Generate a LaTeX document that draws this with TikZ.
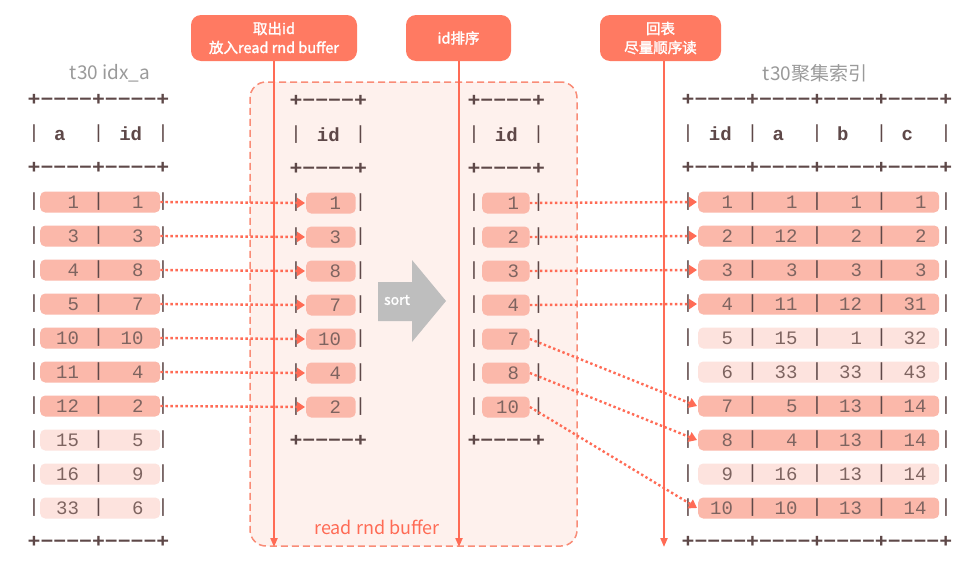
\documentclass[tikz,border=0pt]{standalone}
\usepackage{fontspec}
\newfontfamily\tbl{Liberation Mono}
\newfontfamily\cjk{Noto Sans CJK SC}
\newfontfamily\cjkb{Noto Sans CJK SC}[FakeBold=1.8]
\usetikzlibrary{arrows.meta}
\definecolor{tline}{HTML}{5E4848}
\definecolor{tnum}{HTML}{7E6460}
\definecolor{hidark}{HTML}{FBB8AA}
\definecolor{hilight}{HTML}{FDE3DE}
\definecolor{boxfill}{HTML}{FEF1ED}
\definecolor{boxedge}{HTML}{F98C77}
\definecolor{callout}{HTML}{FF7A62}
\definecolor{conn}{HTML}{FF6B55}
\definecolor{lbl}{HTML}{9A9A9A}
\definecolor{sortg}{HTML}{BEBEBE}
\tikzset{
  tc/.style={font=\tbl\fontsize{19}{19}\selectfont, text=tline, inner sep=0pt},
  tb/.style={font=\tbl\bfseries\fontsize{19}{19}\selectfont, text=tline, inner sep=0pt},
  th/.style={font=\tbl\bfseries\fontsize{19}{19}\selectfont, text=tline, inner sep=0pt},
  tn/.style={font=\tbl\fontsize{19}{19}\selectfont, text=tnum, inner sep=0pt, anchor=base east},
  hlbox/.style={rounded corners=5pt, inner sep=0pt, minimum height=21pt, anchor=west},
  conn/.style={draw=conn, line width=2.4pt, dash pattern=on 2.4pt off 2.6pt, -{Triangle[length=8pt,width=10pt]}},
  vline/.style={draw=conn, line width=2pt, -{Triangle[length=9pt,width=7pt]}},
  callout/.style={fill=callout, rounded corners=10pt, text=white, align=center, font=\cjkb\fontsize{14.5}{19}\selectfont, inner sep=0pt, minimum height=46pt},
  tlabel/.style={text=lbl, font=\cjk\fontsize{19}{19}\selectfont, inner sep=0pt},
  dashbox/.style={draw=boxedge, fill=boxfill, line width=1.5pt, dash pattern=on 7pt off 4pt, rounded corners=16pt, inner sep=0pt}
}
% border line: name, x0, y, text, ncols
\newcommand\tborder[5]{%
  \node[tb] (#1) at ({#2+#5*32.25},#3) {\scalebox{1.13}[1]{#4}};
}
\newcommand\bone{+−−−−+}
\newcommand\btwo{+−−−−+−−−−+}
\newcommand\bfour{+−−−−+−−−−+−−−−+−−−−+}
% header: name, x0, y, ncols, labels/offsets
\newcommand\thdr[5]{%
  \foreach \j in {0,...,#4}{\node[tc] (#1p\j) at ({#2+\j*64.5},#3) {|};}
  \foreach \t/\o [count=\c] in {#5}{\node[th, anchor=base] (#1h\c) at ({#2+(\c-1)*64.5+\o},{#3+6.3}) {\t};}
}
% row: name, x0, y, ncols, fill, left offset, right inset, values
\newcommand\trow[8]{%
  \pgfmathsetmacro\hla{#2+#6}%
  \pgfmathsetmacro\hlw{#4*64.5-#7-#6}%
  \node[hlbox, fill=#5, minimum width=\hlw pt] (#1) at (\hla,#3) {};
  \foreach \j in {0,...,#4}{\node[tc] (#1p\j) at ({#2+\j*64.5},#3) {|};}
  \foreach \v [count=\c] in {#8}{\node[tn] (#1n\c) at ({#2+(\c-1)*64.5+3.5*12.9},{#3+6.3}) {\v};}
}
\begin{document}
\begin{tikzpicture}[x=1pt,y=-1pt]
\useasboundingbox (0,0) rectangle (977,562);
\fill[white] (0,0) rectangle (977,562);

% read rnd buffer box
\node[dashbox, minimum width=327pt, minimum height=464pt] (buf) at (413.5,314) {};
\node[text=conn, font=\cjk\fontsize{18}{18}\selectfont, inner sep=0pt] (buflbl) at (377,527) {read rnd buffer};

% labels
\node[tlabel] (lab1) at (110,73) {t30 idx\_a};
\node[tlabel] (lab2) at (815,73) {t30聚集索引};

% left table
\tborder{Lt}{34}{100}{\btwo}{2}
\thdr{Lh}{34}{134}{2}{a/25.8, id/32.25}
\tborder{Lm}{34}{168}{\btwo}{2}
\trow{Lr1}{34}{202}{2}{hidark}{6}{3}{1,1}
\trow{Lr2}{34}{236}{2}{hidark}{6}{3}{3,3}
\trow{Lr3}{34}{270}{2}{hidark}{6}{3}{4,8}
\trow{Lr4}{34}{304}{2}{hidark}{6}{3}{5,7}
\trow{Lr5}{34}{338}{2}{hidark}{6}{3}{10,10}
\trow{Lr6}{34}{372}{2}{hidark}{6}{3}{11,4}
\trow{Lr7}{34}{406}{2}{hidark}{6}{3}{12,2}
\trow{Lr8}{34}{440}{2}{hilight}{6}{3}{15,5}
\trow{Lr9}{34}{474}{2}{hilight}{6}{3}{16,9}
\trow{Lr10}{34}{508}{2}{hilight}{6}{3}{33,6}
\tborder{Lb}{34}{542}{\btwo}{2}

% middle table (buffer)
\tborder{Mt}{296}{101}{\bone}{1}
\thdr{Mh}{296}{135}{1}{id/32.25}
\tborder{Mm}{296}{169}{\bone}{1}
\trow{Mr1}{296}{203}{1}{hidark}{10}{5}{1}
\trow{Mr2}{296}{237}{1}{hidark}{10}{5}{3}
\trow{Mr3}{296}{271}{1}{hidark}{10}{5}{8}
\trow{Mr4}{296}{305}{1}{hidark}{10}{5}{7}
\trow{Mr5}{296}{339}{1}{hidark}{10}{5}{10}
\trow{Mr6}{296}{373}{1}{hidark}{10}{5}{4}
\trow{Mr7}{296}{407}{1}{hidark}{10}{5}{2}
\tborder{Mb}{296}{441}{\bone}{1}

% sort arrow
\fill[sortg] (378,282) -- (412,282) -- (412,260) -- (446,301) -- (412,342) -- (412,321) -- (378,321) -- cycle;
\node[text=white, font=\cjkb\fontsize{14}{14}\selectfont, inner sep=0pt] (sortlbl) at (397,300) {sort};

% sorted table
\tborder{St}{474}{101}{\bone}{1}
\thdr{Sh}{474}{135}{1}{id/32.25}
\tborder{Sm}{474}{169}{\bone}{1}
\trow{Sr1}{474}{203}{1}{hidark}{8}{9}{1}
\trow{Sr2}{474}{237}{1}{hidark}{8}{9}{2}
\trow{Sr3}{474}{271}{1}{hidark}{8}{9}{3}
\trow{Sr4}{474}{305}{1}{hidark}{8}{9}{4}
\trow{Sr5}{474}{339}{1}{hidark}{8}{9}{7}
\trow{Sr6}{474}{373}{1}{hidark}{8}{9}{8}
\trow{Sr7}{474}{407}{1}{hidark}{8}{9}{10}
\tborder{Sb}{474}{441}{\bone}{1}

% right table
\tborder{Rt}{688}{100}{\bfour}{4}
\thdr{Rh}{688}{134}{4}{id/32.25, a/25.8, b/25.8, c/25.8}
\tborder{Rm}{688}{168}{\bfour}{4}
\trow{Rr1}{688}{202}{4}{hidark}{10}{7}{1,1,1,1}
\trow{Rr2}{688}{236}{4}{hidark}{10}{7}{2,12,2,2}
\trow{Rr3}{688}{270}{4}{hidark}{10}{7}{3,3,3,3}
\trow{Rr4}{688}{304}{4}{hidark}{10}{7}{4,11,12,31}
\trow{Rr5}{688}{338}{4}{hilight}{10}{7}{5,15,1,32}
\trow{Rr6}{688}{372}{4}{hilight}{10}{7}{6,33,33,43}
\trow{Rr7}{688}{406}{4}{hidark}{10}{7}{7,5,13,14}
\trow{Rr8}{688}{440}{4}{hidark}{10}{7}{8,4,13,14}
\trow{Rr9}{688}{474}{4}{hilight}{10}{7}{9,16,13,14}
\trow{Rr10}{688}{508}{4}{hidark}{10}{7}{10,10,13,14}
\tborder{Rb}{688}{542}{\bfour}{4}

% connectors left -> buffer
\foreach \i in {1,...,7}{\draw[conn] (Lr\i.east) -- ([xshift=-1pt]Mr\i.west);}
% connectors sorted -> clustered index
\draw[conn] (Sr1.east) -- ([xshift=-1pt]Rr1.west);
\draw[conn] (Sr2.east) -- ([xshift=-1pt]Rr2.west);
\draw[conn] (Sr3.east) -- ([xshift=-1pt]Rr3.west);
\draw[conn] (Sr4.east) -- ([xshift=-1pt]Rr4.west);
\draw[conn] (Sr5.east) -- ([xshift=-1pt]Rr7.west);
\draw[conn] (Sr6.east) -- ([xshift=-1pt]Rr8.west);
\draw[conn] (Sr7.east) -- ([xshift=-1pt]Rr10.west);

% callouts
\node[callout, minimum width=166pt] (c1) at (274,38) {取出id\\放入read rnd buffer};
\node[callout, minimum width=105pt] (c2) at (458.5,38) {id排序};
\node[callout, minimum width=121pt] (c3) at (660.5,38) {回表\\尽量顺序读};
\coordinate (e1) at (274,547);
\coordinate (e2) at (459,547);
\coordinate (e3) at (664,547);
\draw[vline] (c1.south -| e1) -- (e1);
\draw[vline] (c2.south -| e2) -- (e2);
\draw[vline] (c3.south -| e3) -- (e3);
\end{tikzpicture}
\end{document}
